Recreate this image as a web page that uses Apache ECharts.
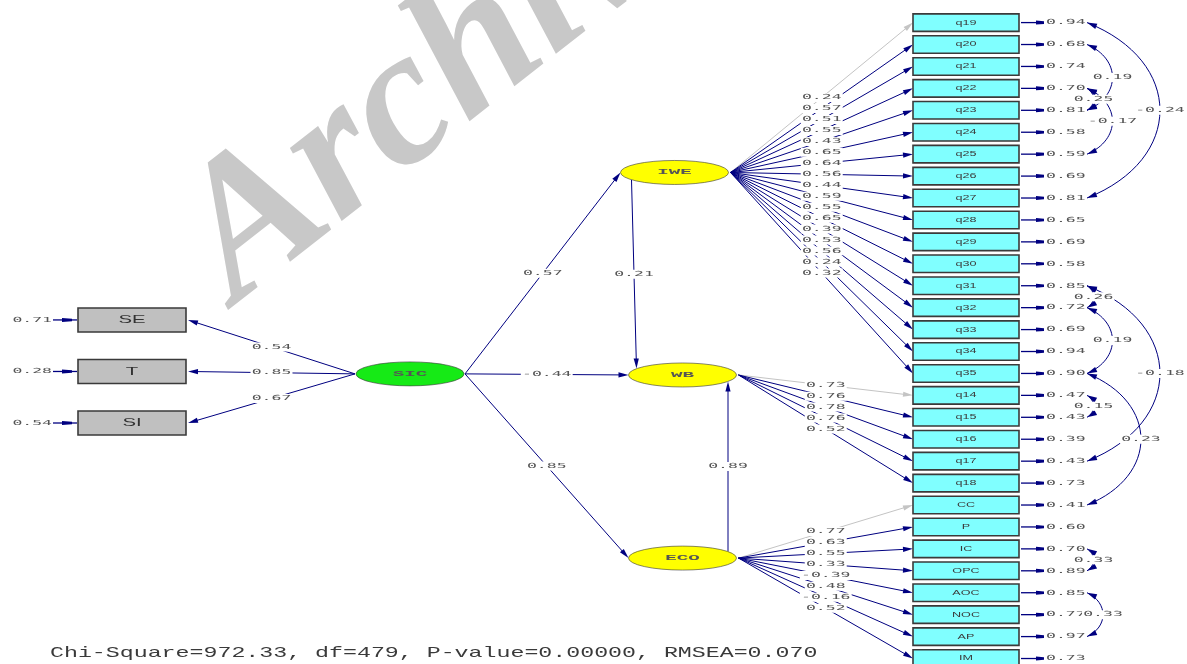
<!DOCTYPE html>
<html><head><meta charset="utf-8">
<script src="https://cdn.jsdelivr.net/npm/echarts@6/dist/echarts.min.js"></script>
<style>html,body{margin:0;padding:0;background:#fff}#c{width:1187px;height:664px}</style>
</head><body><div id="c"></div>
<script>
// ---------------- DATA ----------------
const iweItems = ['q19','q20','q21','q22','q23','q24','q25','q26','q27','q28','q29','q30','q31','q32','q33','q34','q35'];
const iweLoadings = [0.24,0.57,0.51,0.55,0.43,0.65,0.64,0.56,0.44,0.59,0.55,0.65,0.39,0.53,0.56,0.24,0.32];
const iweErrors = [0.94,0.68,0.74,0.70,0.81,0.58,0.59,0.69,0.81,0.65,0.69,0.58,0.85,0.72,0.69,0.94,0.90];
const wbItems = ['q14','q15','q16','q17','q18'];
const wbLoadings = [0.73,0.76,0.78,0.76,0.52];
const wbErrors = [0.47,0.43,0.39,0.43,0.73];
const ecoItems = ['CC','P','IC','OPC','AOC','NOC','AP','IM'];
const ecoLoadings = [0.77,0.63,0.55,0.33,-0.39,0.48,-0.16,0.52];
const ecoErrors = [0.41,0.60,0.70,0.89,0.85,0.77,0.97,0.73];
const sicItems = ['SE','T','SI'];
const sicLoadings = [0.54,0.85,0.67];
const sicErrors = [0.71,0.28,0.54];
const structFrom = ['SIC','SIC','SIC','IWE','ECO'];
const structTo   = ['IWE','WB','ECO','WB','WB'];
const structCoef = [0.57,-0.44,0.85,0.21,0.89];
const covA = ['q20','q22','q22','q19','q31','q32','q31','q14','q35','IC','AOC'];
const covB = ['q23','q23','q25','q27','q32','q35','q17','q15','CC','OPC','AP'];
const covVal = [0.19,0.25,-0.17,-0.24,0.26,0.19,-0.18,0.15,0.23,0.33,0.33];
const fitText = 'Chi-Square=972.33, df=479, P-value=0.00000, RMSEA=0.070';
const watermark = 'Archive of SID';

// ---------------- LAYOUT ----------------
const LAT = {SIC:[410,16.02], IWE:[674.5,6.835], WB:[682.5,16.07], ECO:[682.5,24.42]};
const LAT_FILL = {SIC:'#16ea16', IWE:'#ffff00', WB:'#ffff00', ECO:'#ffff00'};
const ERX = 54, ERY = 12;
const BOX_L = 913, BOX_R = 1019, BOX_H = 17.5;
const LBOX_L = 78, LBOX_R = 186, LBOX_H = 24;
const LEFT_ROWS = [13.56, 15.91, 18.26];
const COV_X = 1087;
const NAVY = '#000080', GREY_EDGE = '#c4c4c4';
const VAL_FONT = '7px "DejaVu Sans Mono"', VAL_SX = 2.35, VAL_COLOR = '#555555';

const allItems = iweItems.concat(wbItems, ecoItems);
const allErrors = iweErrors.concat(wbErrors, ecoErrors);
const groups = [['IWE', iweItems, iweLoadings], ['WB', wbItems, wbLoadings], ['ECO', ecoItems, ecoLoadings]];

// edges: [fx, frow, fdx, fdy, tx, trow, tdx, tdy, value, fixed]
const edgeData = [];
sicItems.forEach((n, i) => edgeData.push([LAT.SIC[0], LAT.SIC[1], -ERX - 1, 0, LBOX_R, LEFT_ROWS[i], 2, 0, sicLoadings[i], 0]));
const structOffsets = {
  'SIC>IWE': [ERX + 1, 0, -ERX, 0], 'SIC>WB': [ERX + 1, 0, -ERX, 0], 'SIC>ECO': [ERX + 1, 0, -ERX, 0],
  'IWE>WB': [-43, 7.5, -46, -6.5], 'ECO>WB': [45.5, -6.5, 45.5, 6.5]
};
structFrom.forEach((f, i) => {
  const t = structTo[i], o = structOffsets[f + '>' + t];
  edgeData.push([LAT[f][0], LAT[f][1], o[0], o[1], LAT[t][0], LAT[t][1], o[2], o[3], structCoef[i], 0]);
});
groups.forEach(g => {
  g[1].forEach((n, j) => {
    const row = allItems.indexOf(n);
    edgeData.push([LAT[g[0]][0], LAT[g[0]][1], ERX + 2, 0, BOX_L, row, 0, 0, g[2][j], j === 0 ? 1 : 0]);
  });
});
const covData = covA.map((a, i) => [allItems.indexOf(a), allItems.indexOf(covB[i]), covVal[i]]);

// ---------------- HELPERS ----------------
function fmt(v) { return v.toFixed(2); }
function valText(x, y, str, align, bg) {
  const t = {type: 'text', x: x, y: y, scaleX: VAL_SX,
    style: {text: str, x: 0, y: 0, font: VAL_FONT, fill: VAL_COLOR, align: align || 'center', verticalAlign: 'middle'}};
  if (bg) { t.style.backgroundColor = '#ffffff'; t.style.padding = [1, 0.5]; }
  return t;
}
function arrowHead(tipX, tipY, fromX, fromY, col, L, W) {
  const ang = Math.atan2(tipY - fromY, tipX - fromX);
  const bx = tipX - L * Math.cos(ang), by = tipY - L * Math.sin(ang);
  const nx = -Math.sin(ang) * W, ny = Math.cos(ang) * W;
  return {type: 'polygon', shape: {points: [[tipX, tipY], [bx + nx, by + ny], [bx - nx, by - ny]]}, style: {fill: col, stroke: null}};
}
function edgeGeom(api) {
  const a = api.coord([api.value(0), api.value(1)]);
  const b = api.coord([api.value(4), api.value(5)]);
  return {x1: a[0] + api.value(2), y1: a[1] + api.value(3), x2: b[0] + api.value(6), y2: b[1] + api.value(7)};
}
function covGeom(api) {
  const a = api.coord([COV_X, api.value(0)]);
  const b = api.coord([COV_X, api.value(1)]);
  const x0 = a[0], y1 = a[1], y2 = b[1], span = y2 - y1;
  const peak = x0 + 0.433 * span - 3;
  const xc = x0 + (peak - x0) / 0.75;
  return {x0: x0, y1: y1, y2: y2, peak: peak, xc: xc, t: 0.22 * span, mid: (y1 + y2) / 2};
}

// ---------------- RENDERERS ----------------
function renderEdge(params, api) {
  const g = edgeGeom(api);
  const col = api.value(9) ? GREY_EDGE : NAVY;
  const ang = Math.atan2(g.y2 - g.y1, g.x2 - g.x1);
  const bx = g.x2 - 9 * Math.cos(ang), by = g.y2 - 9 * Math.sin(ang);
  return {type: 'group', children: [
    {type: 'line', shape: {x1: g.x1, y1: g.y1, x2: bx, y2: by}, style: {stroke: col, lineWidth: 1}},
    arrowHead(g.x2, g.y2, g.x1, g.y1, col, 10, 2.6)
  ]};
}
function renderEdgeLabel(params, api) {
  const g = edgeGeom(api);
  return valText((g.x1 + g.x2) / 2, (g.y1 + g.y2) / 2, fmt(api.value(8)), 'center', true);
}
function renderCov(params, api) {
  const g = covGeom(api);
  return {type: 'group', children: [
    {type: 'bezierCurve', shape: {x1: g.x0, y1: g.y1, cpx1: g.xc, cpy1: g.y1 + g.t, cpx2: g.xc, cpy2: g.y2 - g.t, x2: g.x0, y2: g.y2},
      style: {stroke: NAVY, fill: 'none', lineWidth: 1}},
    arrowHead(g.x0, g.y1, g.xc, g.y1 + g.t, NAVY, 10, 2.8),
    arrowHead(g.x0, g.y2, g.xc, g.y2 - g.t, NAVY, 10, 2.8)
  ]};
}
function renderCovLabel(params, api) {
  const g = covGeom(api);
  return valText(g.peak, g.mid, fmt(api.value(2)), 'center', true);
}
function renderIndicator(params, api) {
  const p = api.coord([BOX_L, api.value(1)]);
  const xR = api.coord([BOX_R, api.value(1)])[0];
  const y = p[1], xL = p[0];
  const name = allItems[params.dataIndex];
  return {type: 'group', children: [
    {type: 'rect', shape: {x: xL, y: y - BOX_H / 2, width: xR - xL, height: BOX_H},
      style: {fill: '#80ffff', stroke: '#3a3a3a', lineWidth: 1.6}},
    {type: 'text', x: (xL + xR) / 2, y: y, scaleX: 1.8,
      style: {text: name, x: 0, y: 0, font: '7px "Liberation Sans"', fill: '#3a3a3a', align: 'center', verticalAlign: 'middle'}},
    {type: 'line', shape: {x1: xR + 2, y1: y, x2: xR + 18, y2: y}, style: {stroke: NAVY, lineWidth: 1.3}},
    {type: 'polygon', shape: {points: [[xR + 17, y - 2], [xR + 25, y - 1.3], [xR + 25, y + 1.3], [xR + 17, y + 2]]}, style: {fill: NAVY}},
    valText(xR + 27, y, fmt(api.value(2)), 'left', false)
  ]};
}
function renderLeftBox(params, api) {
  const p = api.coord([LBOX_L, api.value(1)]);
  const xR = api.coord([LBOX_R, api.value(1)])[0];
  const y = p[1], xL = p[0];
  const name = sicItems[params.dataIndex];
  return {type: 'group', children: [
    {type: 'rect', shape: {x: xL, y: y - LBOX_H / 2, width: xR - xL, height: LBOX_H},
      style: {fill: '#c0c0c0', stroke: '#3a3a3a', lineWidth: 1.6}},
    {type: 'text', x: (xL + xR) / 2, y: y, scaleX: 1.85,
      style: {text: name, x: 0, y: 0, font: '11px "Liberation Sans"', fill: '#333333', align: 'center', verticalAlign: 'middle'}},
    {type: 'line', shape: {x1: xL - 25, y1: y, x2: xL - 1, y2: y}, style: {stroke: NAVY, lineWidth: 1.3}},
    {type: 'polygon', shape: {points: [[xL - 16, y - 2], [xL - 6, y - 1.3], [xL - 6, y + 1.3], [xL - 16, y + 2]]}, style: {fill: NAVY}},
    valText(xL - 26, y, fmt(api.value(2)), 'right', false)
  ]};
}
const latNames = Object.keys(LAT);
function renderLatent(params, api) {
  const name = latNames[params.dataIndex];
  const p = api.coord([api.value(0), api.value(1)]);
  return {type: 'group', children: [
    {type: 'circle', x: p[0], y: p[1], scaleY: ERY / ERX, shape: {cx: 0, cy: 0, r: ERX},
      style: {fill: LAT_FILL[name], stroke: '#3a3a3a', lineWidth: 1, strokeNoScale: true}},
    {type: 'text', x: p[0], y: p[1], scaleX: 2.4,
      style: {text: name, x: 0, y: 0, font: 'bold 8px "Liberation Mono"', fill: '#555555', align: 'center', verticalAlign: 'middle'}}
  ]};
}

// ---------------- CHART ----------------
const chart = echarts.init(document.getElementById('c'), null, {renderer: 'canvas'});
chart.setOption({
  animation: false,
  backgroundColor: '#ffffff',
  grid: {left: 0, right: 0, top: 0, bottom: 0},
  xAxis: {type: 'value', min: 0, max: 1187, show: false},
  yAxis: {type: 'value', min: -1.03, max: 29.25, inverse: true, show: false},
  graphic: [
    {type: 'text', x: 205, y: 264, rotation: 38 * Math.PI / 180, z: -10, silent: true,
      style: {text: watermark, font: 'italic bold 195px "Liberation Serif"', fill: '#c8c8c8', align: 'left', verticalAlign: 'middle'}},
    {type: 'text', x: 50, y: 653, scaleX: 1.55, z: 10,
      style: {text: fitText, font: '15px "Liberation Mono"', fill: '#3a3a3a', align: 'left', verticalAlign: 'middle'}}
  ],
  series: [
    {type: 'custom', name: 'paths', coordinateSystem: 'cartesian2d', z: 2, silent: true,
      data: edgeData, renderItem: renderEdge},
    {type: 'custom', name: 'covariances', coordinateSystem: 'cartesian2d', z: 2, silent: true,
      data: covData, renderItem: renderCov},
    {type: 'custom', name: 'indicators', coordinateSystem: 'cartesian2d', z: 3, silent: true,
      data: allItems.map((n, i) => [BOX_L, i, allErrors[i]]), renderItem: renderIndicator},
    {type: 'custom', name: 'sicIndicators', coordinateSystem: 'cartesian2d', z: 3, silent: true,
      data: sicItems.map((n, i) => [LBOX_L, LEFT_ROWS[i], sicErrors[i]]), renderItem: renderLeftBox},
    {type: 'custom', name: 'latents', coordinateSystem: 'cartesian2d', z: 3, silent: true,
      data: latNames.map(n => LAT[n]), renderItem: renderLatent},
    {type: 'custom', name: 'pathLabels', coordinateSystem: 'cartesian2d', z: 4, silent: true,
      data: edgeData, renderItem: renderEdgeLabel},
    {type: 'custom', name: 'covLabels', coordinateSystem: 'cartesian2d', z: 5, silent: true,
      data: covData, renderItem: renderCovLabel}
  ]
});
</script></body></html>
